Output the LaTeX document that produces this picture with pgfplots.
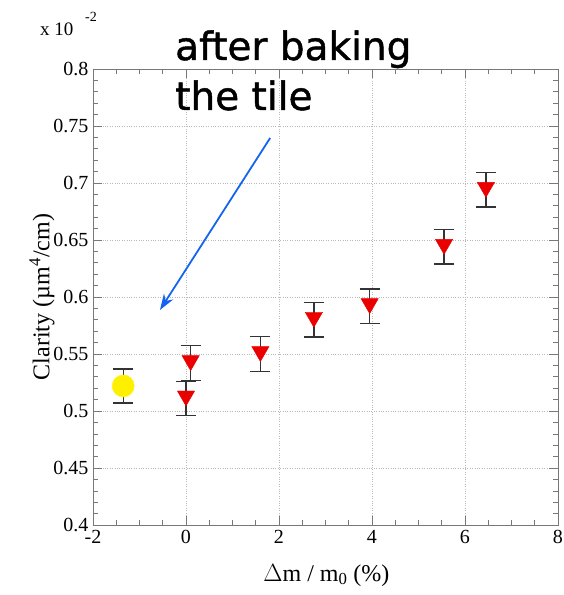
\documentclass[border=0pt]{standalone}
\usepackage{fontspec}
\setmainfont{Liberation Serif}
\newfontfamily\notefont[FakeBold=1.2]{DejaVu Sans}
\usepackage{pgfplots}
\pgfplotsset{compat=1.18}
\usetikzlibrary{arrows.meta}

\definecolor{axisgray}{RGB}{120,120,120}
\definecolor{gridgray}{RGB}{185,185,185}
\definecolor{markyellow}{RGB}{255,240,0}
\definecolor{markred}{RGB}{235,0,0}
\definecolor{arrowblue}{RGB}{20,100,240}

\begin{document}
\begin{tikzpicture}
\useasboundingbox (-93pt,-70pt) rectangle (470pt,525pt);
\begin{axis}[
  scale only axis,
  width=465pt, height=456pt,
  at={(0pt,0pt)}, anchor=south west,
  xmin=-2, xmax=8, ymin=0.4, ymax=0.8,
  xtick={-2,0,...,8},
  ytick={0.4,0.45,...,0.8},
  yticklabels={0.4,0.45,0.5,0.55,0.6,0.65,0.7,0.75,0.8},
  minor x tick num=3,
  minor y tick num=4,
  tick align=inside,
  major tick length=9pt,
  minor tick length=5pt,
  axis line style={axisgray, line width=0.8pt},
  every tick/.style={axisgray, line width=0.6pt},
  grid=major,
  major grid style={gridgray, dotted, line width=0.6pt},
  tick label style={font=\fontsize{20}{22}\selectfont, black},
  /pgf/number format/assume math mode=true,
  xticklabel style={yshift=-2pt},
  yticklabel style={xshift=-1pt},
  xlabel={$\Delta$m / m\textsubscript{0} (\%)},
  ylabel={Clarity (µm\textsuperscript{4}/cm)},
  label style={font=\fontsize{24}{26}\selectfont},
  xlabel style={at={(axis description cs:0.502,-0.11)}, anchor=center},
  ylabel style={at={(axis description cs:-0.11,0.5)}, anchor=center},
  error bars/error bar style={black!80, line width=1.4pt},
  error bars/error mark options={rotate=90, mark size=10pt, line width=1.4pt, black!80},
]
% reference point before baking
\addplot[only marks, mark=*, mark size=11pt,
  mark options={fill=markyellow, draw=markyellow},
  error bars/.cd, y dir=both, y explicit]
  coordinates {(-1.35,0.522) +- (0,0.015)};
% measurements after baking
\addplot[only marks, mark=triangle*, mark size=10pt,
  mark options={fill=markred, draw=markred, yshift=2.5pt, rotate=180},
  error bars/.cd, y dir=both, y explicit]
  coordinates {
    (0.0,0.511)  +- (0,0.015)
    (0.1,0.542)  +- (0,0.0155)
    (1.6,0.550)  +- (0,0.0155)
    (2.75,0.580) +- (0,0.015)
    (3.95,0.592) +- (0,0.015)
    (5.55,0.644) +- (0,0.015)
    (6.45,0.694) +- (0,0.015)
  };
\draw[arrowblue, line width=1.8pt, -{Stealth[length=16pt, width=11pt]}]
  (axis cs:1.81,0.7395) -- (axis cs:-0.56,0.5886);
\end{axis}
% exponent of the y scale
\node[anchor=base west, inner sep=0pt, font=\fontsize{19}{20}\selectfont] at (-53pt,489pt) {x 10};
\node[anchor=base west, inner sep=0pt, font=\fontsize{14}{15}\selectfont] at (-8pt,503pt) {-2};
% annotation
\node[anchor=base west, inner sep=0pt, font=\notefont\fontsize{39}{41}\selectfont] at (82pt,465pt) {after baking};
\node[anchor=base west, inner sep=0pt, font=\notefont\fontsize{39}{41}\selectfont] at (82pt,415pt) {the tile};
\end{tikzpicture}
\end{document}
